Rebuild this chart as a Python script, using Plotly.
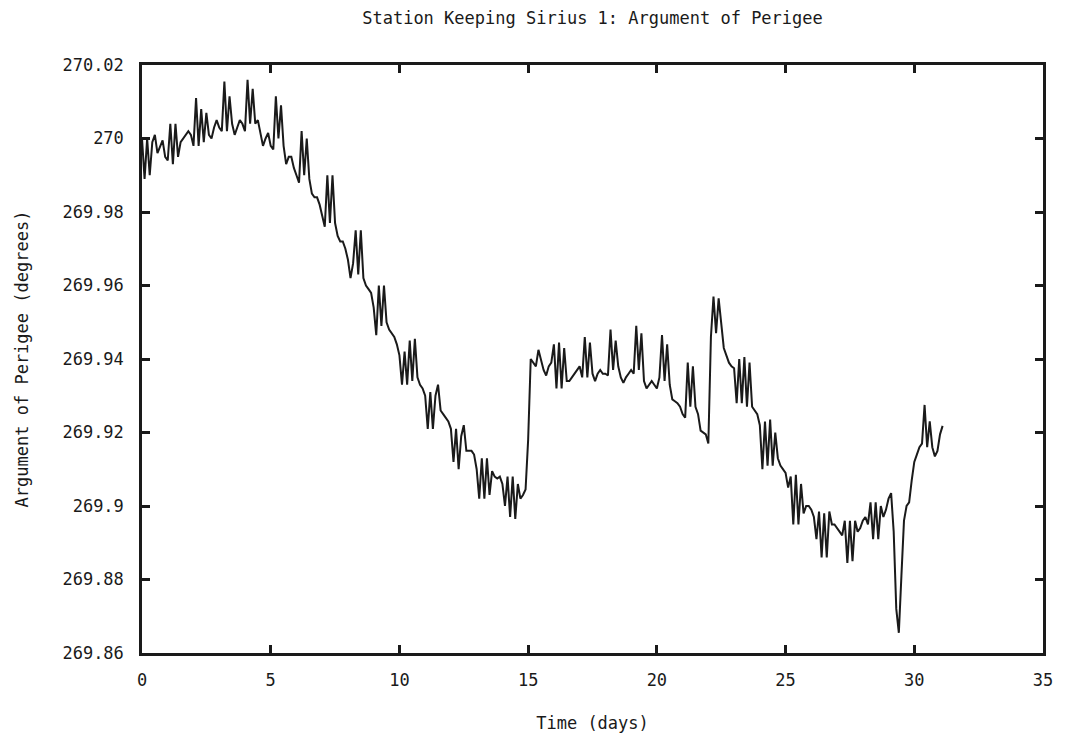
import plotly.graph_objects as go

# ---- data ----
T_START = 0.0
T_STEP = 0.1  # days between samples

arg_perigee = [
    # day 0
    270.000, 269.989, 270.000, 269.990, 269.999, 270.001, 269.996, 269.998, 269.9995, 269.995,
    # day 1
    269.994, 270.004, 269.993, 270.004, 269.995, 269.999, 270.000, 270.001, 270.002, 270.001,
    # day 2
    269.998, 270.011, 269.998, 270.008, 269.999, 270.007, 270.001, 270.000, 270.003, 270.005,
    # day 3
    270.003, 270.002, 270.0155, 270.002, 270.0115, 270.004, 270.001, 270.003, 270.005, 270.004,
    # day 4
    270.002, 270.016, 270.004, 270.0135, 270.004, 270.005, 270.001, 269.998, 270.000, 270.0015,
    # day 5
    269.998, 269.997, 270.0115, 270.000, 270.009, 269.998, 269.993, 269.995, 269.995, 269.992,
    # day 6
    269.990, 269.988, 270.002, 269.990, 270.000, 269.989, 269.985, 269.984, 269.984, 269.982,
    # day 7
    269.979, 269.976, 269.990, 269.977, 269.990, 269.977, 269.9735, 269.972, 269.972, 269.970,
    # day 8
    269.967, 269.962, 269.966, 269.975, 269.963, 269.975, 269.962, 269.960, 269.959, 269.958,
    # day 9
    269.954, 269.9465, 269.960, 269.949, 269.960, 269.950, 269.948, 269.947, 269.946, 269.944,
    # day 10
    269.941, 269.933, 269.942, 269.933, 269.945, 269.934, 269.9455, 269.935, 269.933, 269.932,
    # day 11
    269.930, 269.921, 269.931, 269.921, 269.930, 269.933, 269.926, 269.925, 269.924, 269.923,
    # day 12
    269.921, 269.912, 269.921, 269.910, 269.919, 269.922, 269.915, 269.915, 269.915, 269.914,
    # day 13
    269.910, 269.902, 269.913, 269.902, 269.913, 269.903, 269.9095, 269.908, 269.9075, 269.908,
    # day 14
    269.906, 269.900, 269.908, 269.897, 269.908, 269.8965, 269.906, 269.902, 269.903, 269.9045,
    # day 15
    269.918, 269.940, 269.939, 269.938, 269.9425, 269.940, 269.937, 269.9355, 269.938, 269.939,
    # day 16
    269.944, 269.932, 269.9445, 269.932, 269.943, 269.934, 269.934, 269.935, 269.936, 269.937,
    # day 17
    269.938, 269.935, 269.946, 269.935, 269.9445, 269.936, 269.934, 269.936, 269.937, 269.936,
    # day 18
    269.936, 269.9355, 269.948, 269.937, 269.945, 269.938, 269.935, 269.9335, 269.935, 269.936,
    # day 19
    269.937, 269.936, 269.949, 269.937, 269.947, 269.934, 269.932, 269.933, 269.934, 269.933,
    # day 20
    269.932, 269.935, 269.9465, 269.934, 269.944, 269.933, 269.929, 269.9285, 269.928, 269.927,
    # day 21
    269.925, 269.924, 269.939, 269.927, 269.938, 269.927, 269.925, 269.9205, 269.920, 269.9195,
    # day 22
    269.917, 269.946, 269.957, 269.947, 269.9565, 269.949, 269.943, 269.941, 269.939, 269.938,
    # day 23
    269.9375, 269.928, 269.940, 269.928, 269.9405, 269.927, 269.939, 269.927, 269.926, 269.925,
    # day 24
    269.922, 269.910, 269.923, 269.911, 269.9235, 269.911, 269.920, 269.913, 269.911, 269.910,
    # day 25
    269.909, 269.905, 269.908, 269.895, 269.9085, 269.895, 269.906, 269.898, 269.900, 269.900,
    # day 26
    269.899, 269.897, 269.891, 269.8985, 269.886, 269.898, 269.886, 269.8985, 269.895, 269.895,
    # day 27
    269.894, 269.893, 269.892, 269.896, 269.8845, 269.896, 269.885, 269.896, 269.893, 269.894,
    # day 28
    269.896, 269.897, 269.895, 269.901, 269.891, 269.901, 269.891, 269.900, 269.897, 269.899,
    # day 29
    269.902, 269.9035, 269.893, 269.872, 269.8655, 269.881, 269.896, 269.900, 269.901, 269.907,
    # day 30
    269.912, 269.914, 269.916, 269.917, 269.9275, 269.916, 269.923, 269.916, 269.9135, 269.915,
    # day 31
    269.9195, 269.9218,
]

time_days = [round(T_START + i * T_STEP, 2) for i in range(len(arg_perigee))]

x_tick_vals = [0, 5, 10, 15, 20, 25, 30, 35]
x_tick_text = ["0", "5", "10", "15", "20", "25", "30", "35"]
y_tick_vals = [269.86, 269.88, 269.90, 269.92, 269.94, 269.96, 269.98, 270.00, 270.02]
y_tick_text = ["269.86", "269.88", "269.9", "269.92", "269.94", "269.96", "269.98", "270", "270.02"]

FONT = "DejaVu Sans Mono"
INK = "#1a1a1a"

fig = go.Figure()
fig.add_trace(go.Scatter(
    x=time_days, y=arg_perigee, mode="lines",
    line=dict(color=INK, width=2),
    showlegend=False,
))

axis_common = dict(
    showline=True, linecolor=INK, linewidth=2.5, mirror="ticks",
    ticks="inside", ticklen=8, tickwidth=2.5, tickcolor=INK,
    showgrid=False, zeroline=False,
    tickfont=dict(family=FONT, size=17, color=INK),
)

fig.update_layout(
    width=1073, height=744,
    margin=dict(l=142, r=30, t=65, b=91),
    paper_bgcolor="white", plot_bgcolor="white",
    title=dict(
        text="Station Keeping Sirius 1: Argument of Perigee",
        font=dict(family=FONT, size=17, color=INK),
        x=0.5, xref="paper", xanchor="center",
        y=1 - 18 / 744, yref="container", yanchor="middle",
    ),
    xaxis=dict(
        range=[0, 35], tickvals=x_tick_vals, ticktext=x_tick_text,
        ticklabelstandoff=10,
        title=dict(text="Time (days)", font=dict(family=FONT, size=17, color=INK), standoff=28),
        **axis_common,
    ),
    yaxis=dict(
        range=[269.86, 270.02], tickvals=y_tick_vals, ticktext=y_tick_text,
        ticklabelstandoff=12,
        title=dict(text="Argument of Perigee (degrees)", font=dict(family=FONT, size=17, color=INK), standoff=30),
        **axis_common,
    ),
)

fig.write_html("out.html")
